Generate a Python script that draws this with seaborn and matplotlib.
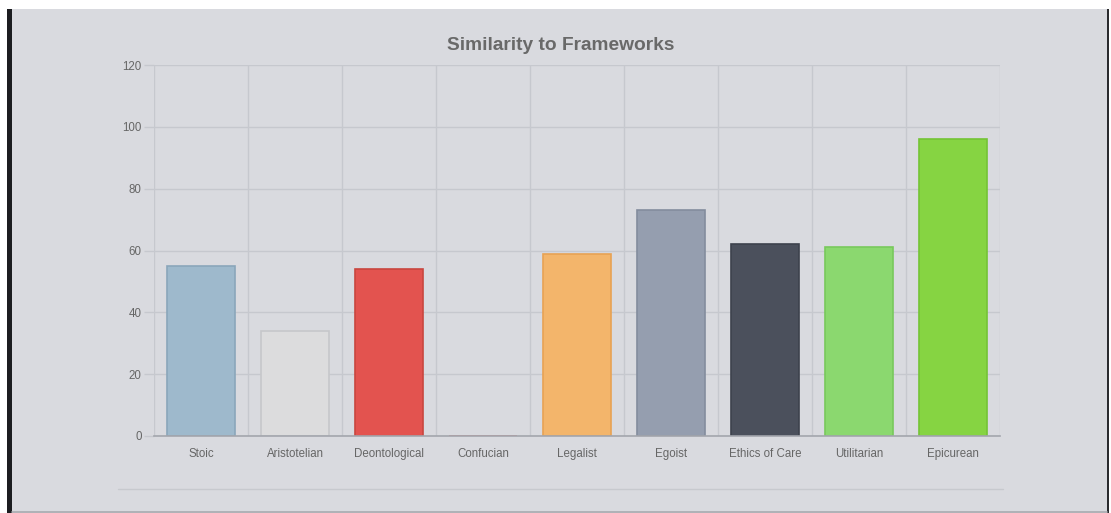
import matplotlib
matplotlib.use("Agg")
import matplotlib.pyplot as plt
import seaborn as sns
import pandas as pd
from matplotlib.patches import Rectangle
from matplotlib.lines import Line2D
from matplotlib.ticker import FixedLocator

categories = ["Stoic", "Aristotelian", "Deontological", "Confucian", "Legalist",
              "Egoist", "Ethics of Care", "Utilitarian", "Epicurean"]
values = [55, 34, 54, 0, 59, 73, 62, 61, 96]
fill_colors = ["#9eb9cc", "#dcdcdd", "#e3534f", "#f0a0a0", "#f3b56b",
               "#959eaf", "#4b505c", "#8bd86f", "#86d442"]
edge_colors = ["#8aa6ba", "#c6c7ca", "#c9463f", "#d08080", "#e8a253",
               "#838c9d", "#3d424d", "#78c95c", "#74c435"]
y_ticks = [0, 20, 40, 60, 80, 100, 120]
title = "Similarity to Frameworks"

sns.set_theme(style="white")
plt.rcParams["font.family"] = ["Liberation Sans", "DejaVu Sans"]

W, H = 1111, 513
fig = plt.figure(figsize=(W / 100, H / 100), dpi=100, facecolor="white")

# panel background and borders
fig.patches.append(Rectangle((12 / W, 0), (1107 - 12) / W, 1 - 9 / H,
                             transform=fig.transFigure, facecolor="#d9dadf",
                             edgecolor="none", zorder=-10))
fig.patches.append(Rectangle((7 / W, 0), 5 / W, 1 - 9 / H,
                             transform=fig.transFigure, facecolor="#1c1d20",
                             edgecolor="none", zorder=-9))
fig.patches.append(Rectangle((1107 / W, 0), 2 / W, 1 - 9 / H,
                             transform=fig.transFigure, facecolor="#2a2b2e",
                             edgecolor="none", zorder=-9))
fig.lines.append(Line2D([12 / W, 1107 / W], [1.5 / H, 1.5 / H],
                        transform=fig.transFigure, color="#a8aab0", lw=1.2,
                        zorder=-8))
# separator line below chart
fig.lines.append(Line2D([118 / W, 1003 / W], [1 - 489 / H, 1 - 489 / H],
                        transform=fig.transFigure, color="#c7c9ce", lw=1.0,
                        zorder=-8))

ax = fig.add_axes([154 / W, 1 - 436 / H, (1000 - 154) / W, (436 - 65) / H])
ax.set_facecolor("none")

df = pd.DataFrame({"category": categories, "value": values})
sns.barplot(data=df, x="category", y="value", hue="category",
            palette=fill_colors, legend=False, width=0.72, ax=ax,
            saturation=1, linewidth=1.2, zorder=3)
for patch, ec in zip(ax.patches, edge_colors):
    patch.set_edgecolor(ec)

ax.set_xlim(-0.5, len(categories) - 0.5)
ax.set_ylim(0, 120)
ax.set_yticks(y_ticks)
ax.set_xlabel("")
ax.set_ylabel("")

grid_c = "#c6c8ce"
ax.xaxis.set_minor_locator(FixedLocator([i - 0.5 for i in range(len(categories) + 1)]))
ax.grid(True, axis="y", which="major", color=grid_c, lw=1.0, zorder=0)
ax.grid(True, axis="x", which="minor", color=grid_c, lw=1.0, zorder=0)
ax.grid(False, axis="x", which="major")
ax.set_axisbelow(True)

for s in ["top", "right", "left"]:
    ax.spines[s].set_visible(False)
ax.spines["bottom"].set_color("#a3a6ad")
ax.spines["bottom"].set_linewidth(1.2)
ax.spines["bottom"].set_zorder(4)

ax.tick_params(axis="x", which="major", length=0, pad=15, labelsize=8.3,
               labelcolor="#666666")
for lbl in ax.get_xticklabels():
    lbl.set_verticalalignment("baseline")
ax.tick_params(axis="x", which="minor", length=6.5, width=1.0, color=grid_c)
ax.tick_params(axis="y", which="major", length=7, width=1.0, color=grid_c,
               pad=2, labelsize=8.3, labelcolor="#666666", left=True)

fig.text(561 / W, 1 - 45 / H, title, ha="center", va="center",
         fontsize=13.8, fontweight="bold", color="#696969")

fig.savefig("out.png", dpi=100, facecolor="white")
